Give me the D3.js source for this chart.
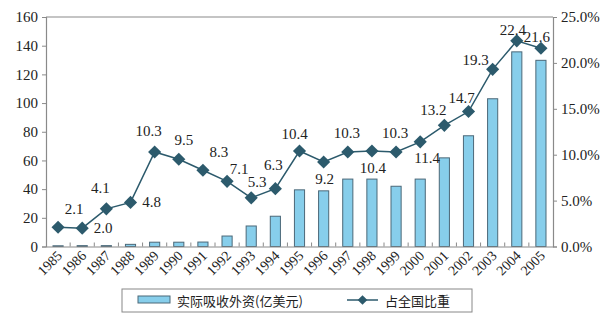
<!DOCTYPE html>
<html><head><meta charset="utf-8">
<script src="https://cdn.jsdelivr.net/npm/d3@7"></script>
<style>
body{margin:0;background:#fff;}
text{font-family:"Liberation Serif","DejaVu Serif","Times New Roman",serif;fill:#222;}
</style></head><body>
<svg id="c" width="607" height="322"></svg>
<script>
const years = ["1985","1986","1987","1988","1989","1990","1991","1992","1993","1994","1995","1996","1997","1998","1999","2000","2001","2002","2003","2004","2005"];
const fdi = [0.5,0.6,0.6,1.5,3.0,3.0,3.1,7.3,14.3,21.1,39.5,38.8,47,47,42,47,61.8,77.2,103,135.7,129.8];
const share = [2.1,2.0,4.1,4.8,10.3,9.5,8.3,7.1,5.3,6.3,10.4,9.2,10.3,10.4,10.3,11.4,13.2,14.7,19.3,22.4,21.6];
// label placement keyword per point
const labelPos = ["ne","e","nw","e","nw","nr","ne","ene","nne","nn","nl","s","n","s","n","se","wnw","wnw2","w","nlow","nlow"];
const leftTicks = [0,20,40,60,80,100,120,140,160];
const rightTicks = [0,5,10,15,20,25];
const legendLabels = ["实际吸收外资(亿美元)","占全国比重"];

const serif = "'Liberation Serif','DejaVu Serif','Times New Roman',serif";
const svg = d3.select("#c");
const m = {l:46, r:553, t:17, b:246.5};
const x = d3.scaleBand().domain(years).range([m.l, m.r]).paddingInner(0.58).paddingOuter(0.29);
const xc = d => x(d) + x.bandwidth()/2;
const y = d3.scaleLinear().domain([0,160]).range([m.b, m.t]);
const y2 = d3.scaleLinear().domain([0,25]).range([m.b, m.t]);
const axisCol = "#8a8a8a";

// top border
svg.append("line").attr("x1",m.l).attr("x2",m.r).attr("y1",m.t).attr("y2",m.t).attr("stroke",axisCol).attr("stroke-width",1.2);

// bars
svg.append("g").selectAll("rect").data(fdi).join("rect")
  .attr("x",(d,i)=>x(years[i])).attr("width",x.bandwidth())
  .attr("y",d=>y(d)).attr("height",d=>m.b-y(d))
  .attr("fill","#87CEEB").attr("stroke","#4b6878").attr("stroke-width",1);

// axes
const gl = svg.append("g").attr("transform",`translate(${m.l},0)`)
  .call(d3.axisLeft(y).tickValues(leftTicks).tickSize(4).tickPadding(4));
const gr = svg.append("g").attr("transform",`translate(${m.r},0)`)
  .call(d3.axisRight(y2).tickValues(rightTicks).tickSize(4).tickPadding(4).tickFormat(d=>d.toFixed(1)+"%"));
const gb = svg.append("g").attr("transform",`translate(0,${m.b})`)
  .call(d3.axisBottom(x).tickSize(0).tickPadding(0));
[gl,gr,gb].forEach(g=>{
  g.attr("font-family",serif);
  g.selectAll(".domain").attr("stroke",axisCol).attr("stroke-width",1.2);
  g.selectAll(".tick line").attr("stroke",axisCol);
  g.selectAll("text").style("font-family",serif).style("font-size","15px").attr("fill","#222");
});
gb.selectAll(".tick text")
  .attr("text-anchor","end").attr("dy","0")
  .attr("transform","translate(5,10) rotate(-45)")
  .style("font-size","14px");
// category boundary ticks
const bounds = years.slice(1).map(d=>x(d) - x.step()*x.paddingInner()/2);
svg.append("g").selectAll("line").data(bounds).join("line")
  .attr("x1",d=>d).attr("x2",d=>d).attr("y1",m.b).attr("y2",m.b-4)
  .attr("stroke",axisCol);

// line
const lineCol = "#2c5a6c";
const line = d3.line().x((d,i)=>xc(years[i])).y(d=>y2(d));
svg.append("path").datum(share).attr("d",line).attr("fill","none").attr("stroke",lineCol).attr("stroke-width",1.5);
const diamond = d3.symbol().type(d3.symbolDiamond2).size(110);
svg.append("g").selectAll("path").data(share).join("path")
  .attr("d",diamond)
  .attr("transform",(d,i)=>`translate(${xc(years[i])},${y2(d)})`)
  .attr("fill",lineCol);

// labels
const off = {n:[-1,-19],nr:[5,-19],nl:[-5,-17],nn:[-2,-24],ne:[16,-18],ene:[12,-12],nne:[6,-16],
  nw:[-6,-21],e:[21,0],s:[1,17],se:[7,16],wnw:[-11,-15],wnw2:[-7,-14],w:[-17,-9],nlow:[-4,-11]};
svg.append("g").selectAll("text").data(share).join("text")
  .attr("x",(d,i)=>xc(years[i])+off[labelPos[i]][0])
  .attr("y",(d,i)=>y2(d)+off[labelPos[i]][1])
  .attr("text-anchor","middle").attr("dominant-baseline","central")
  .style("font-family",serif).style("font-size","15px")
  .text(d=>d.toFixed(1));

// legend
const lg = svg.append("g");
lg.append("rect").attr("x",122).attr("y",289).attr("width",350).attr("height",23)
  .attr("fill","#fff").attr("stroke","#888").attr("stroke-width",1);
lg.append("rect").attr("x",138).attr("y",296).attr("width",32).attr("height",7)
  .attr("fill","#87CEEB").attr("stroke","#4b6878");
lg.append("text").attr("x",177).attr("y",300.5).attr("dominant-baseline","central")
  .style("font-family","'Noto Sans CJK SC',sans-serif").style("font-size","13px").text(legendLabels[0]);
lg.append("line").attr("x1",347).attr("x2",378).attr("y1",300).attr("y2",300).attr("stroke",lineCol).attr("stroke-width",1.5);
lg.append("path").attr("d",d3.symbol().type(d3.symbolDiamond2).size(60)).attr("transform","translate(362.5,300)").attr("fill",lineCol);
lg.append("text").attr("x",385).attr("y",300.5).attr("dominant-baseline","central")
  .style("font-family","'Noto Sans CJK SC',sans-serif").style("font-size","13px").text(legendLabels[1]);
</script></body></html>
